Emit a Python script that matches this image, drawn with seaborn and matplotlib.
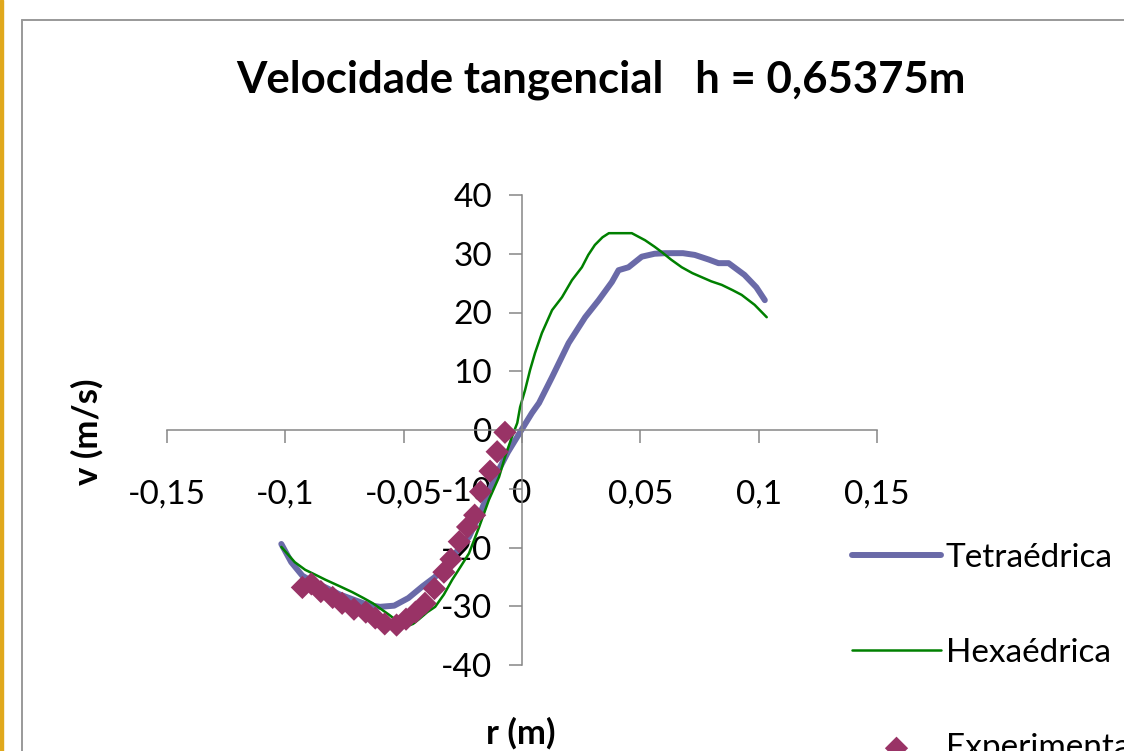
import pandas as pd
import seaborn as sns
import matplotlib.pyplot as plt
from matplotlib.lines import Line2D
from matplotlib.patches import Rectangle

# Tetraédrica (simulation)
tetra_r = [-0.1017, -0.0975, -0.0928, -0.0886, -0.0830, -0.0770, -0.0710, -0.0650,
           -0.0600, -0.0540, -0.0480, -0.0420, -0.0367, -0.0310, -0.0260, -0.0224,
           -0.0170, -0.0114, -0.0060, -0.0010, 0.0042, 0.0072, 0.0127, 0.0197,
           0.0267, 0.0324, 0.0380, 0.0408, 0.0450, 0.0506, 0.0560, 0.0605,
           0.0680, 0.0730, 0.0790, 0.0830, 0.0873, 0.0940, 0.0990, 0.1026]
tetra_v = [-19.4, -22.5, -24.8, -25.8, -26.8, -28.0, -28.9, -29.8,
           -30.1, -29.9, -28.6, -26.6, -25.0, -22.2, -20.0, -18.2,
           -13.5, -8.0, -3.8, -0.5, 2.9, 4.6, 9.0, 14.8,
           19.2, 22.1, 25.2, 27.2, 27.7, 29.5, 30.0, 30.1,
           30.1, 29.8, 29.0, 28.4, 28.4, 26.4, 24.3, 22.1]

# Hexaédrica (simulation)
hexa_r = [-0.1017, -0.0960, -0.0916, -0.0870, -0.0830, -0.0770, -0.0717, -0.0670,
          -0.0630, -0.0595, -0.0560, -0.0525, -0.0494, -0.0460, -0.0435, -0.0400,
          -0.0367, -0.0330, -0.0295, -0.0260, -0.0224, -0.0181, -0.0140, -0.0097,
          -0.0072, -0.0042, -0.0020, -0.0008, 0.0013, 0.0034, 0.0055, 0.0084,
          0.0127, 0.0169, 0.0211, 0.0253, 0.0280, 0.0308, 0.0340, 0.0367,
          0.0420, 0.0464, 0.0520, 0.0560, 0.0590, 0.0630, 0.0675, 0.0720,
          0.0760, 0.0800, 0.0844, 0.0890, 0.0928, 0.0983, 0.1034]
hexa_v = [-19.9, -22.5, -23.8, -24.7, -25.5, -26.6, -27.6, -28.6,
          -29.5, -30.5, -31.5, -32.6, -33.5, -33.0, -32.2, -31.0,
          -30.1, -28.0, -25.5, -23.3, -21.0, -16.5, -11.9, -8.0,
          -4.6, -1.1, 1.2, 3.9, 6.8, 10.2, 13.1, 16.5,
          20.4, 22.6, 25.5, 27.7, 29.8, 31.5, 32.8, 33.5,
          33.5, 33.5, 32.3, 31.2, 30.3, 29.0, 27.7, 26.7,
          26.0, 25.3, 24.7, 23.8, 23.0, 21.3, 19.2]

# Experimental points
exp_r = [-0.0928, -0.0890, -0.0850, -0.0800, -0.0760, -0.0710, -0.0660, -0.0620,
         -0.0580, -0.0530, -0.0490, -0.0450, -0.0410, -0.0370, -0.0330, -0.0300,
         -0.0265, -0.0230, -0.0200, -0.0175, -0.0135, -0.0105, -0.0072]
exp_v = [-26.8, -26.2, -27.5, -28.5, -29.5, -30.5, -31.0, -32.0,
         -33.0, -33.2, -32.2, -31.0, -29.5, -27.0, -24.2, -22.0,
         -19.0, -16.5, -14.5, -10.5, -7.0, -3.7, -0.4]

x_ticks = [-0.15, -0.1, -0.05, 0, 0.05, 0.1, 0.15]
x_labels = ["-0,15", "-0,1", "-0,05", "0", "0,05", "0,1", "0,15"]
y_ticks = [-40, -30, -20, -10, 0, 10, 20, 30, 40]
y_labels = ["-40", "-30", "-20", "-10", "0", "10", "20", "30", "40"]

sns.set_theme(style="white")
plt.rcParams["font.family"] = ["Lato", "DejaVu Sans"]
plt.rcParams["text.color"] = "black"

W, H = 1124, 751
fig = plt.figure(figsize=(W / 100, H / 100), dpi=100)
ax = fig.add_axes([167 / W, 1 - 665 / H, 710 / W, 470 / H])

df_tetra = pd.DataFrame({"r": tetra_r, "v": tetra_v})
df_hexa = pd.DataFrame({"r": hexa_r, "v": hexa_v})
df_exp = pd.DataFrame({"r": exp_r, "v": exp_v})

sns.lineplot(data=df_tetra, x="r", y="v", ax=ax, color="#6a6aa8", linewidth=4.3,
             estimator=None, sort=False, label="Tetraédrica", solid_capstyle="round")
sns.lineplot(data=df_hexa, x="r", y="v", ax=ax, color="#008000", linewidth=1.8,
             estimator=None, sort=False, label="Hexaédrica")
sns.scatterplot(data=df_exp, x="r", y="v", ax=ax, color="#993366", marker="D",
                s=140, edgecolor="none", label="Experimental", zorder=3)

ax.set_xlim(-0.15, 0.15)
ax.set_ylim(-40, 40)
ax.set_xticks(x_ticks)
ax.set_xticklabels(x_labels)
ax.set_yticks(y_ticks)
ax.set_yticklabels(y_labels)
ax.set_xlabel("")
ax.set_ylabel("")

for side in ["top", "right"]:
    ax.spines[side].set_visible(False)
ax.spines["left"].set_position(("data", 0))
ax.spines["bottom"].set_position(("data", 0))
for side in ["left", "bottom"]:
    ax.spines[side].set_color("#868686")
    ax.spines[side].set_linewidth(1.1)
ax.patch.set_visible(False)

ax.tick_params(axis="x", direction="out", length=9.4, width=1.1, color="#868686",
               pad=26, labelsize=24, labelcolor="black", bottom=True)
ax.tick_params(axis="y", direction="out", length=9.4, width=1.1, color="#868686",
               pad=12, labelsize=24, labelcolor="black", left=True)

# titles and axis labels
fig.text(601 / W, 1 - 80 / H, "Velocidade tangencial   h = 0,65375m",
         ha="center", va="center", fontsize=31.5, fontweight="bold", color="black")
fig.text(87 / W, 1 - 432 / H, "v (m/s)", rotation=90, ha="center", va="center",
         fontsize=25, fontweight="bold", color="black")
fig.text(521 / W, 1 - 733 / H, "r (m)", ha="center", va="center",
         fontsize=25, fontweight="bold", color="black")

ax.legend(loc="upper left", bbox_to_anchor=(852 / W, 1 - 543 / H),
          bbox_transform=fig.transFigure, frameon=False, fontsize=24,
          handlelength=2.67, handletextpad=0.15, labelspacing=1.95,
          borderpad=0, borderaxespad=0, markerscale=1.0)

# chart frame and page edge
fig.add_artist(Line2D([22 / W, 22 / W], [0, 1 - 20 / H], color="#999999", lw=1.4,
                      transform=fig.transFigure))
fig.add_artist(Line2D([22 / W, 1], [1 - 20 / H, 1 - 20 / H], color="#999999", lw=1.4,
                      transform=fig.transFigure))
fig.add_artist(Rectangle((0, 0), 3 / W, 1, color="#e0a81c", transform=fig.transFigure))

fig.savefig("out.png", dpi=100)
